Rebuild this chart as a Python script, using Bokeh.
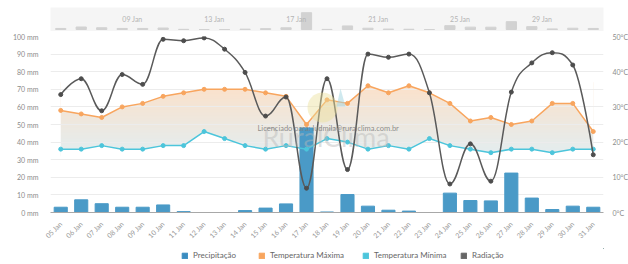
import math
import numpy as np
from bokeh.plotting import figure
from bokeh.layouts import column
from bokeh.models import (Range1d, LinearAxis, FixedTicker, Legend, LegendItem,
                          Label, PolyAnnotation)
from bokeh.embed import file_html
from bokeh.resources import INLINE
from bokeh.core.properties import value

# ---------------- data ----------------
days = ["05 Jan", "06 Jan", "07 Jan", "08 Jan", "09 Jan", "10 Jan", "11 Jan",
        "12 Jan", "13 Jan", "14 Jan", "15 Jan", "16 Jan", "17 Jan", "18 Jan",
        "19 Jan", "20 Jan", "21 Jan", "22 Jan", "23 Jan", "24 Jan", "25 Jan",
        "26 Jan", "27 Jan", "28 Jan", "29 Jan", "30 Jan", "31 Jan"]
precip_mm = [3.0, 7.2, 5.0, 3.0, 3.0, 4.3, 0.5, 0.0, 0.0, 1.1, 2.5, 4.9, 48.0, 0.3,
             10.2, 3.6, 1.3, 0.8, 0.0, 11.0, 6.8, 6.6, 22.4, 8.2, 1.7, 3.6, 3.0]
temp_max = [29, 28, 27, 30, 31, 33, 34, 35, 35, 35, 34, 33, 25, 32,
            31, 36, 34, 36, 34, 31, 26, 27, 25, 26, 31, 31, 23]
temp_min = [18, 18, 19, 18, 18, 19, 19, 23, 21, 19, 18, 19, 18, 21,
            20, 18, 19, 18, 21, 19, 18, 17, 18, 18, 17, 18, 18]
radiation = [33.5, 38.0, 28.9, 39.2, 36.4, 49.2, 48.8, 49.6, 46.4, 39.8, 27.4, 32.8, 6.9, 38.0,
             12.2, 45.0, 44.1, 45.0, 34.0, 8.1, 19.5, 8.9, 34.2, 42.5, 45.4, 41.9, 16.4]

mm_ticks = [0, 10, 20, 30, 40, 50, 60, 70, 80, 90, 100]
mm_labels = ["0 mm", "10 mm", "20 mm", "30 mm", "40 mm", "50 mm", "60 mm",
             "70 mm", "80 mm", "90 mm", "100 mm"]
temp_ticks = [0, 10, 20, 30, 40, 50]
temp_labels = ["0°C", "10°C", "20°C", "30°C", "40°C", "50°C"]
nav_labels = ["09 Jan", "13 Jan", "17 Jan", "21 Jan", "25 Jan", "29 Jan"]
series_names = ["Precipitação", "Temperatura Máxima", "Temperatura Mínima", "Radiação"]

FONT = "Lato"
C_PREC = "#4a9ac7"
C_MAX = "#f8a55e"
C_MIN = "#4cc5db"
C_RAD = "#5a5a5a"

x = np.arange(len(days))
n = len(days)
FW, BL, BR = 553, 50, 25

# ---------------- navigator ----------------
nav = figure(frame_width=FW, frame_height=24, min_border_left=BL, min_border_right=BR,
             min_border_top=7, min_border_bottom=0,
             x_range=Range1d(-0.5, n - 0.5), y_range=Range1d(-5.7, 62.9),
             x_axis_type=None, y_axis_type=None,
             output_backend="svg", toolbar_location=None)
nav.background_fill_color = "#f5f5f5"
nav.border_fill_color = "white"
nav.outline_line_color = None
nav.vbar(x=x, top=precip_mm, width=0.5, color="#d2d2d2")
nav_x = [days.index(l) - 0.5 for l in nav_labels]
nav.text(x=nav_x, y=[31.4] * len(nav_labels), text=nav_labels,
         text_font=value(FONT), text_font_size="7px", text_color="#b4b4b4",
         text_align="center", text_baseline="middle")

# ---------------- main chart ----------------
p = figure(frame_width=FW, frame_height=176, min_border_left=BL, min_border_right=BR,
           min_border_top=5, min_border_bottom=36,
           x_range=Range1d(-0.5, n - 0.5), y_range=Range1d(0, 100),
           output_backend="svg", toolbar_location=None)
p.extra_y_ranges = {"temp": Range1d(0, 50)}
p.outline_line_color = None
p.background_fill_color = "white"

# axes
yl = p.yaxis[0]
yl.ticker = FixedTicker(ticks=mm_ticks)
yl.major_label_overrides = dict(zip(mm_ticks, mm_labels))
yr = LinearAxis(y_range_name="temp", ticker=FixedTicker(ticks=temp_ticks),
                major_label_overrides=dict(zip(temp_ticks, temp_labels)))
p.add_layout(yr, "right")
for ax in (yl, yr):
    ax.axis_line_color = None
    ax.major_tick_line_color = None
    ax.minor_tick_line_color = None
    ax.major_label_text_font = FONT
    ax.major_label_text_font_size = "7px"
    ax.major_label_text_color = "#8c8c8c"
yl.major_label_standoff = 6
yr.major_label_standoff = 3

xa = p.xaxis[0]
xa.ticker = FixedTicker(ticks=list(x))
xa.major_label_overrides = {int(i): d for i, d in zip(x, days)}
xa.major_label_orientation = math.pi / 4
xa.axis_line_color = "#a8a8a8"
xa.major_tick_line_color = None
xa.minor_tick_line_color = None
xa.major_label_text_font = FONT
xa.major_label_text_font_size = "7px"
xa.major_label_text_color = "#999999"
xa.major_label_standoff = 4

p.xgrid.visible = False
p.ygrid.ticker = FixedTicker(ticks=mm_ticks)
p.ygrid.grid_line_color = "#ececec"

# gradient fill between max and min temperature
g_lo, g_hi = 16.0, 37.0
rows = 128
t = np.linspace(0.0, 1.0, rows)[:, None]
c_bot = np.array([227, 238, 241], dtype=float)
c_top = np.array([253, 225, 201], dtype=float)
rgb = c_bot + (c_top - c_bot) * t
img = np.empty((rows, 1), dtype=np.uint32)
view = img.view(dtype=np.uint8).reshape((rows, 1, 4))
view[..., 0] = rgb[:, 0:1]
view[..., 1] = rgb[:, 1:2]
view[..., 2] = rgb[:, 2:3]
view[..., 3] = 255
p.image_rgba(image=[img], x=float(x[0]), y=g_lo, dw=float(x[-1] - x[0]), dh=g_hi - g_lo,
             y_range_name="temp", level="image")
t_end = p.extra_y_ranges["temp"].end
p.varea(x=x, y1=temp_max, y2=np.full(n, t_end), fill_color="white",
        y_range_name="temp", level="image")
p.varea(x=x, y1=np.zeros(n), y2=temp_min, fill_color="white",
        y_range_name="temp", level="image")

# precipitation bars
p.vbar(x=x, top=precip_mm, width=0.64, color=C_PREC)

# temperature lines
p.line(x, temp_max, color=C_MAX, line_width=1.5, y_range_name="temp")
p.scatter(x, temp_max, size=4, color=C_MAX, y_range_name="temp")
p.line(x, temp_min, color=C_MIN, line_width=1.5, y_range_name="temp")
p.scatter(x, temp_min, size=4, color=C_MIN, y_range_name="temp")


# radiation spline (Highcharts-style control points)
def spline_controls(xs, ys, smoothing=1.5):
    xs = np.asarray(xs, float)
    ys = np.asarray(ys, float)
    lcx, lcy, rcx, rcy = xs.copy(), ys.copy(), xs.copy(), ys.copy()
    d = smoothing + 1.0
    for i in range(1, len(xs) - 1):
        px, py = xs[i], ys[i]
        lx, ly = xs[i - 1], ys[i - 1]
        nx, ny = xs[i + 1], ys[i + 1]
        a_x = (smoothing * px + lx) / d
        a_y = (smoothing * py + ly) / d
        b_x = (smoothing * px + nx) / d
        b_y = (smoothing * py + ny) / d
        if b_x != a_x:
            corr = ((b_y - a_y) * (b_x - px)) / (b_x - a_x) + py - b_y
            a_y += corr
            b_y += corr
        if a_y > ly and a_y > py:
            a_y = max(ly, py)
            b_y = 2 * py - a_y
        elif a_y < ly and a_y < py:
            a_y = min(ly, py)
            b_y = 2 * py - a_y
        if b_y > ny and b_y > py:
            b_y = max(ny, py)
            a_y = 2 * py - b_y
        elif b_y < ny and b_y < py:
            b_y = min(ny, py)
            a_y = 2 * py - b_y
        lcx[i], lcy[i], rcx[i], rcy[i] = a_x, a_y, b_x, b_y
    return lcx, lcy, rcx, rcy


lcx, lcy, rcx, rcy = spline_controls(x, radiation)
rad = np.asarray(radiation, float)
p.bezier(x0=x[:-1], y0=rad[:-1], x1=x[1:], y1=rad[1:],
         cx0=rcx[:-1], cy0=rcy[:-1], cx1=lcx[1:], cy1=lcy[1:],
         line_color=C_RAD, line_width=1.5, y_range_name="temp")
p.scatter(x, radiation, size=4, color="#4d4d4d", y_range_name="temp")

# watermark
cx_, cy_, r_ = 272.0, 105.0, 15.0
ang = np.linspace(0, 2 * np.pi, 40, endpoint=False)
p.add_layout(PolyAnnotation(xs=list(cx_ + r_ * np.cos(ang)), ys=list(cy_ + r_ * np.sin(ang)),
                            xs_units="screen", ys_units="screen",
                            fill_color="#eadf9c", fill_alpha=0.45, line_color=None))
p.add_layout(PolyAnnotation(xs=[286, 290, 295], ys=[106, 124, 106],
                            xs_units="screen", ys_units="screen",
                            fill_color="#9fd3e0", fill_alpha=0.5, line_color=None))
p.add_layout(Label(x=212, y=60, x_units="screen", y_units="screen", text="RuralClima",
                   text_font=FONT, text_font_size="27px", text_color="#b8b8b8",
                   text_alpha=0.45))
p.add_layout(Label(x=207, y=84, x_units="screen", y_units="screen",
                   text="Licenciado para: ludmila@ruralclima.com.br",
                   text_font=FONT, text_font_size="7.5px", text_color="#7a7a7a",
                   text_alpha=0.85, text_baseline="middle"))

# ---------------- legend strip ----------------
lg = figure(frame_width=FW, frame_height=16, min_border_left=BL, min_border_right=BR,
            min_border_top=0, min_border_bottom=0,
            x_range=Range1d(0, 1), y_range=Range1d(0, 1),
            x_axis_type=None, y_axis_type=None,
            output_backend="svg", toolbar_location=None)
lg.outline_line_color = None
lg.grid.visible = False
leg_colors = ["#3a8cc0", C_MAX, C_MIN, "#666666"]
leg_x = [131, 208, 312, 410]   # swatch offsets from the plot's left edge, px
for nm, c, lx in zip(series_names, leg_colors, leg_x):
    # swatch renderer kept outside the visible range; it only feeds the legend glyph
    r = lg.vbar(x=[5], top=[5], bottom=[4], width=0.5, color=c)
    lg.add_layout(Legend(items=[LegendItem(label=nm, renderers=[r])],
                         orientation="horizontal", location=(lx, 4),
                         glyph_width=7, glyph_height=7, label_height=8, label_standoff=5,
                         spacing=0, padding=0, margin=0,
                         label_text_font=FONT, label_text_font_size="8px",
                         label_text_color="#666666",
                         background_fill_alpha=0, border_line_color=None))

layout = column(nav, p, lg)
open("out.html", "w").write(file_html(layout, INLINE))
